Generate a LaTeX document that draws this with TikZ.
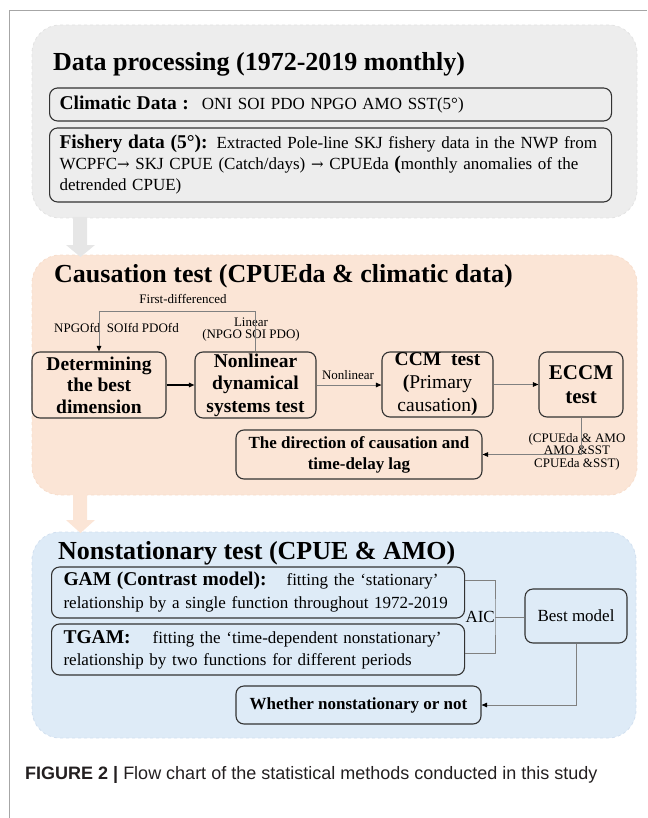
\documentclass[tikz,border=0pt]{standalone}
\usepackage{fontspec}
\setmainfont{Liberation Serif}
\newfontfamily\capfont{Liberation Sans}
\newfontfamily\arrfont{DejaVu Serif}
\usetikzlibrary{arrows.meta}
\definecolor{pgray}{HTML}{EDEDED}
\definecolor{pgrayb}{HTML}{E3E3E3}
\definecolor{ppeach}{HTML}{FBE5D6}
\definecolor{ppeachb}{HTML}{F7DECD}
\definecolor{pblue}{HTML}{DEEBF7}
\definecolor{pblueb}{HTML}{D2E0F0}
\definecolor{agray}{HTML}{E6E6E6}
\definecolor{boxline}{HTML}{333333}
\definecolor{connc}{HTML}{808080}
\definecolor{framec}{HTML}{A6A6A6}
\definecolor{captxt}{HTML}{231F20}
\newcommand\myTitle{\fontsize{26}{30}\selectfont\bfseries}
\newcommand\myBold{\fontsize{19.5}{21}\selectfont\bfseries}
\newcommand\myReg{\fontsize{17}{21}\selectfont}
\newcommand\mySmall{\fontsize{13}{12.5}\selectfont}
\newcommand\myArr{{\arrfont\fontsize{15}{21}\selectfont →}}
\begin{document}
\begin{tikzpicture}[x=1pt,y=-1pt,
  panel/.style={rounded corners=28pt, dashed, line width=0.8pt, inner sep=0pt},
  box/.style={draw=boxline, line width=1.1pt, rounded corners=8pt, inner sep=0pt, align=center},
  lbox/.style={box, align=left, anchor=west, font=\myReg},
  ttl/.style={anchor=base west, inner sep=0pt, font=\myTitle},
  lab/.style={inner sep=0pt, font=\mySmall, align=center},
  con/.style={draw=connc, line width=0.9pt, -{Triangle[length=5.5pt,width=4.5pt,color=black]}},
  conb/.style={draw=black, line width=1.1pt, -{Triangle[length=5.5pt,width=4.5pt,color=black]}},
  plain/.style={draw=connc, line width=0.9pt}
]
\useasboundingbox (0,0) rectangle (647,818);
% outer frame
\draw[framec, line width=1pt] (9,818) -- (9,10.5) -- (647,10.5);
% panels
\node[panel, fill=pgray, draw=pgrayb, minimum width=605, minimum height=193] (p1) at (334.5,121.5) {};
\node[panel, fill=ppeach, draw=ppeachb, minimum width=605, minimum height=240] (p2) at (334.5,375) {};
\node[panel, fill=pblue, draw=pblueb, minimum width=604, minimum height=206] (p3) at (334,635) {};
% block arrows
\fill[agray] (73,217) -- (87,217) -- (87,245) -- (95,245) -- (80.5,257) -- (66,245) -- (73,245) -- cycle;
\fill[ppeach] (73,494) -- (87,494) -- (87,520) -- (95,520) -- (80.5,533) -- (66,520) -- (73,520) -- cycle;
% titles
\node[ttl] (t1) at (53,71) {Data processing (1972-2019 monthly)};
\node[ttl] (t2) at (54,282) {Causation test (CPUEda \& climatic data)};
\node[ttl] (t3) at (58,559) {Nonstationary test (CPUE \& AMO)};
% panel 1 boxes
\node[lbox, minimum width=562, minimum height=33, text width=542, inner xsep=10pt] (clim) at (49,104.5)
  {\mbox{{\myBold Climatic Data\ :}\hspace{13pt}ONI SOI PDO NPGO AMO SST(5°)}};
\node[lbox, minimum width=562, minimum height=74, text width=542, inner xsep=10pt] (fish) at (49,165)
  {\mbox{{\myBold Fishery data (5°):}\hspace{9pt}Extracted Pole-line SKJ fishery data in the NWP from}\\
   \mbox{WCPFC\myArr\ SKJ CPUE (Catch/days) \myArr\ CPUEda {\myBold(}monthly anomalies of the}\\
   \mbox{detrended CPUE)}};
% panel 2 boxes
\node[box, minimum width=134, minimum height=66, font=\fontsize{19.5}{21.5}\selectfont\bfseries] (det) at (99,385)
  {Determining\\the best\\dimension};
\node[box, minimum width=121, minimum height=66, font=\fontsize{19.5}{22.5}\selectfont\bfseries] (nl) at (255.5,385)
  {Nonlinear\\dynamical\\systems test};
\node[box, minimum width=111, minimum height=65, font=\fontsize{19.5}{23}\selectfont] (ccm) at (437.5,384.5)
  {{\bfseries CCM\ \ test}\\{\bfseries(}Primary\\causation{\bfseries)}};
\node[box, minimum width=84, minimum height=65, font=\fontsize{21}{24}\selectfont\bfseries] (eccm) at (581,384.5)
  {ECCM\\test};
\node[box, minimum width=246, minimum height=49, font=\fontsize{17}{21}\selectfont\bfseries] (dir) at (359,454.5)
  {The direction of causation and\\time-delay lag};
% panel 2 labels
\node[lab] (fdl) at (183,299) {First-differenced};
\node[lab] (fdv) at (116.5,328) {NPGOfd\ \ SOIfd PDOfd};
\node[lab] (lin) at (251,329.5) {Linear\\(NPGO SOI PDO)};
\node[lab] (nll) at (348,375) {Nonlinear};
\node[lab] (ecl) at (577,451.5) {(CPUEda \& AMO\\AMO \&SST\\CPUEda \&SST)};
% panel 2 connectors
\draw[con] (nl.north) -- ++(0,-40) -| (det.north);
\draw[conb] (det.east) -- (nl.west);
\draw[con] (nl.east) -- (nl.east -| ccm.west);
\draw[con] (ccm.east) -- (eccm.west);
\draw[con] (eccm.south) |- (dir.east);
% panel 3 boxes
\node[lbox, minimum width=413, minimum height=51, text width=389, inner xsep=12pt, font=\fontsize{17}{23}\selectfont] (gam) at (51,592.5)
  {\mbox{{\myBold GAM (Contrast model):}\hspace{20pt}fitting the ‘stationary’}\\
   \mbox{relationship by a single function throughout 1972-2019}};
\node[lbox, minimum width=413, minimum height=51, text width=389, inner xsep=12pt, font=\fontsize{17}{22}\selectfont] (tgam) at (51,649.5)
  {\mbox{{\myBold TGAM:}\hspace{22pt}fitting the ‘time-dependent nonstationary’}\\
   \mbox{relationship by two functions for different periods}};
\node[box, minimum width=102, minimum height=54, font=\myReg] (best) at (576,616) {Best model};
\node[box, minimum width=245, minimum height=38, font=\fontsize{17}{21}\selectfont\bfseries] (wh) at (358.5,705)
  {Whether nonstationary or not};
\coordinate (aicx) at (495,617);
\node[anchor=east, inner sep=0pt, font=\myReg] (aic) at (aicx) {AIC};
\draw[plain] ([yshift=12.5pt]gam.east) -| (aicx) |- ([yshift=-3.5pt]tgam.east);
\draw[plain] (aicx) -- (aicx -| best.west);
\draw[con] (best.south) |- (wh.east);
% caption
\node[anchor=base west, inner sep=0pt, font=\capfont\fontsize{18}{20}\selectfont, text=captxt] (cap) at (25,779)
  {\textbf{FIGURE 2 |} Flow chart of the statistical methods conducted in this study};
\end{tikzpicture}
\end{document}
